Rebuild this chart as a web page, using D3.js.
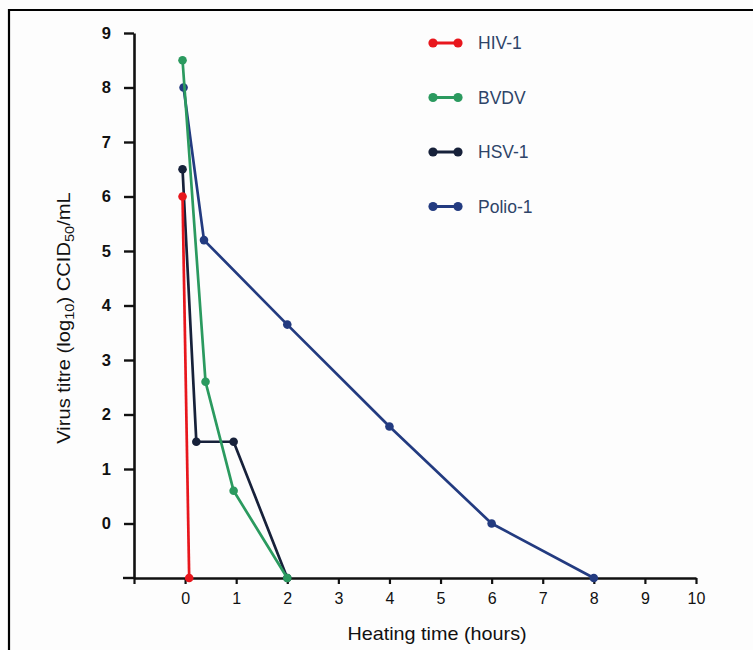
<!DOCTYPE html>
<html>
<head>
<meta charset="utf-8">
<script src="https://cdn.jsdelivr.net/npm/d3@7"></script>
<style>
  html, body { margin: 0; padding: 0; background: #fdfdfd; }
  svg { display: block; }
</style>
</head>
<body>
<svg id="chart" width="753" height="650"></svg>
<script>
// Heating inactivation data: time (hours) vs. virus titre (log10 CCID50/mL).
// A titre of -1 marks "below detection" on the baseline.
const seriesNames = ["HIV-1", "BVDV", "HSV-1", "Polio-1"];
const seriesColors = ["#e8171d", "#2b9a5f", "#17213a", "#233b80"];

const hivTime   = [-0.05, 0.08];
const hivTitre  = [6.0, -1];

const bvdvTime  = [-0.05, 0.4, 0.95, 2];
const bvdvTitre = [8.5, 2.6, 0.6, -1];

const hsvTime   = [-0.05, 0.22, 0.95, 2];
const hsvTitre  = [6.5, 1.5, 1.5, -1];

const polioTime  = [-0.03, 0.37, 2, 4, 6, 8];
const polioTitre = [8.0, 5.2, 3.65, 1.78, 0.0, -1];

const xTicks = [-1, 0, 1, 2, 3, 4, 5, 6, 7, 8, 9, 10];
const yTicks = [0, 1, 2, 3, 4, 5, 6, 7, 8, 9];

const seriesData = [
  { name: "Polio-1", t: polioTime, v: polioTitre },
  { name: "HSV-1",   t: hsvTime,   v: hsvTitre },
  { name: "BVDV",    t: bvdvTime,  v: bvdvTitre },
  { name: "HIV-1",   t: hivTime,   v: hivTitre }
];

const color = d3.scaleOrdinal().domain(seriesNames).range(seriesColors);

const svg = d3.select("#chart");

// frame lines along the top and left edges
svg.append("line").attr("x1", 9).attr("y1", 10).attr("x2", 753).attr("y2", 10)
  .attr("stroke", "#000").attr("stroke-width", 2.2);
svg.append("line").attr("x1", 9).attr("y1", 9).attr("x2", 9).attr("y2", 650)
  .attr("stroke", "#000").attr("stroke-width", 2.2);

const x = d3.scaleLinear().domain([-1, 10]).range([134, 696]);
const y = d3.scaleLinear().domain([-1, 9]).range([578, 33]);

const font = "'Liberation Sans', Arial, Helvetica, sans-serif";

// x axis
const gx = svg.append("g").attr("transform", `translate(0,${y(-1)})`)
  .call(d3.axisBottom(x).tickValues(xTicks).tickSize(6).tickSizeOuter(0).tickPadding(9)
    .tickFormat(d => d < 0 ? "" : d));
gx.select(".domain").attr("stroke", "#111").attr("stroke-width", 2.4);
gx.selectAll(".tick line").attr("stroke", "#111").attr("stroke-width", 2.2);
gx.selectAll(".tick text").attr("font-family", font).attr("font-size", 16)
  .attr("fill", "#111").attr("font-weight", "normal");
// short overhang of the baseline left of the y axis
svg.append("line").attr("x1", 123).attr("x2", x(-1)).attr("y1", y(-1)).attr("y2", y(-1))
  .attr("stroke", "#111").attr("stroke-width", 2.4);

// y axis
const gy = svg.append("g").attr("transform", `translate(${x(-1)},0)`)
  .call(d3.axisLeft(y).tickValues(yTicks).tickSize(10).tickSizeOuter(0).tickPadding(13));
gy.select(".domain").attr("stroke", "#111").attr("stroke-width", 2.6);
gy.selectAll(".tick line").attr("stroke", "#111").attr("stroke-width", 2.4);
gy.selectAll(".tick text").attr("font-family", font).attr("font-size", 16.5)
  .attr("fill", "#111").attr("font-weight", "bold");

// axis titles
svg.append("text")
  .attr("transform", "translate(437,640) scale(1.1,1)")
  .attr("text-anchor", "middle")
  .attr("font-family", font).attr("font-size", 18).attr("fill", "#111")
  .text("Heating time (hours)");

const yt = svg.append("text")
  .attr("transform", `translate(70,318) rotate(-90) scale(1.12,1)`)
  .attr("text-anchor", "middle")
  .attr("font-family", font).attr("font-size", 18).attr("fill", "#111");
yt.append("tspan").text("Virus titre (log");
yt.append("tspan").attr("font-size", 13).attr("dy", 4).text("10");
yt.append("tspan").attr("dy", -4).text(") CCID");
yt.append("tspan").attr("font-size", 13).attr("dy", 4).text("50");
yt.append("tspan").attr("dy", -4).text("/mL");

// series lines and markers
const line = d3.line().x(d => x(d[0])).y(d => y(d[1]));
const plot = svg.append("g");
seriesData.forEach(s => {
  const pts = s.t.map((t, i) => [t, s.v[i]]);
  const g = plot.append("g");
  g.append("path").datum(pts).attr("d", line)
    .attr("fill", "none").attr("stroke", color(s.name)).attr("stroke-width", 2.7)
    .attr("stroke-linejoin", "round");
  g.selectAll("circle").data(pts).join("circle")
    .attr("cx", d => x(d[0])).attr("cy", d => y(d[1])).attr("r", 4.3)
    .attr("fill", color(s.name));
});

// legend
const legend = svg.append("g");
seriesNames.forEach((name, i) => {
  const cy = 43 + i * 54.5;
  const g = legend.append("g");
  g.append("line").attr("x1", 433).attr("x2", 458).attr("y1", cy).attr("y2", cy)
    .attr("stroke", color(name)).attr("stroke-width", 3);
  g.append("circle").attr("cx", 433).attr("cy", cy).attr("r", 4.6).attr("fill", color(name));
  g.append("circle").attr("cx", 458).attr("cy", cy).attr("r", 4.6).attr("fill", color(name));
  g.append("text").attr("x", 478).attr("y", cy).attr("dy", "0.36em")
    .attr("font-family", font).attr("font-size", 17.5).attr("fill", "#2e4468")
    .text(name);
});
</script>
</body>
</html>
